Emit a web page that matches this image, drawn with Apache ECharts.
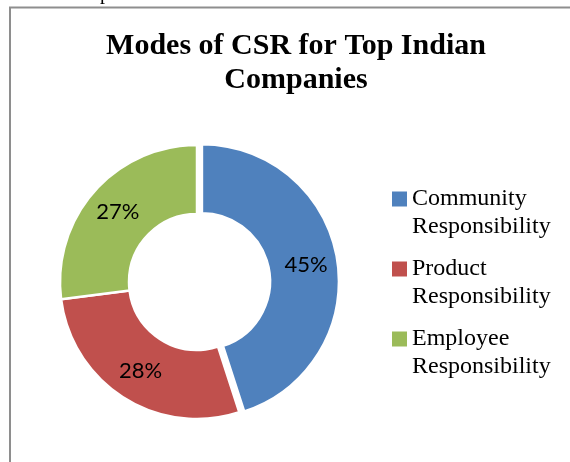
<!DOCTYPE html>
<html>
<head>
<meta charset="utf-8">
<script src="https://cdn.jsdelivr.net/npm/echarts@6/dist/echarts.min.js"></script>
<style>
  html, body { margin: 0; padding: 0; background: #fff; }
  #chart { width: 570px; height: 462px; }
</style>
</head>
<body>
<div id="chart"></div>
<script>
// Modes of CSR: share of each responsibility type
const categories = ['Community Responsibility', 'Product Responsibility', 'Employee Responsibility'];
const shares = [45, 28, 27];
const colors = ['#4F81BD', '#C0504D', '#9BBB59'];
const chartTitle = 'Modes of CSR for Top Indian\nCompanies';

const chart = echarts.init(document.getElementById('chart'), null, { renderer: 'canvas' });

const pieData = categories.map((name, i) => ({
  name: name,
  value: shares[i],
  selected: i === 0,
  itemStyle: { color: colors[i] }
}));

chart.setOption({
  animation: false,
  backgroundColor: '#ffffff',
  graphic: [
    {
      type: 'rect',
      shape: { x: 10, y: 7.5, width: 620, height: 520 },
      style: { fill: 'none', stroke: '#8e8e8e', lineWidth: 2 },
      silent: true
    },
    {
      type: 'text',
      x: 100, y: 4,
      style: { text: 'p', font: '20px "Liberation Serif", serif', fill: '#000', textVerticalAlign: 'bottom' },
      silent: true
    },
    {
      type: 'text',
      x: 296, y: 63,
      style: {
        text: chartTitle,
        font: 'bold 30px "Liberation Serif", "Times New Roman", serif',
        lineHeight: 34,
        fill: '#000',
        textAlign: 'center',
        textVerticalAlign: 'middle'
      },
      silent: true
    }
  ],
  legend: {
    orient: 'vertical',
    left: 392,
    top: 157,
    padding: 0,
    itemWidth: 15,
    itemHeight: 15,
    itemGap: -14,
    icon: 'rect',
    itemStyle: { borderWidth: 0 },
    selectedMode: false,
    data: categories,
    // leading blank line keeps the first word level with the colour key
    formatter: name => '\n' + name.replace(' ', '\n'),
    textStyle: {
      fontFamily: '"Liberation Serif", "Times New Roman", serif',
      fontSize: 24,
      lineHeight: 28,
      color: '#000'
    }
  },
  series: [{
    type: 'pie',
    center: [197, 282],
    radius: [68, 137],
    startAngle: 90,
    clockwise: true,
    selectedMode: 'single',
    selectedOffset: 5,
    avoidLabelOverlap: false,
    silent: true,
    itemStyle: { borderColor: '#ffffff', borderWidth: 2.5 },
    label: {
      show: true,
      position: 'inside',
      formatter: '{d}%',
      fontFamily: 'Lato, "Open Sans", sans-serif',
      fontSize: 22,
      color: '#000'
    },
    labelLine: { show: false },
    emphasis: { disabled: true },
    data: pieData
  }]
});
</script>
</body>
</html>
